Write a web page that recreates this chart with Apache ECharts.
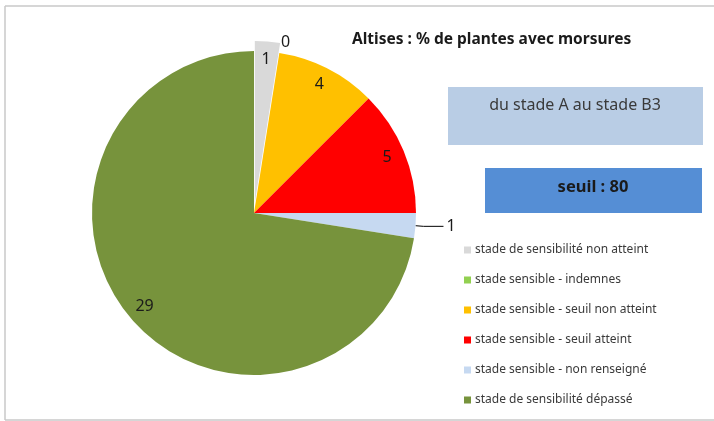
<!DOCTYPE html>
<html><head><meta charset="utf-8">
<script src="https://cdn.jsdelivr.net/npm/echarts@6/dist/echarts.min.js"></script>
<style>html,body{margin:0;padding:0;background:#fff}#c{width:714px;height:421px}</style>
</head><body><div id="c"></div>
<script>
const categories = [
  'stade de sensibilité non atteint',
  'stade sensible - indemnes',
  'stade sensible - seuil non atteint',
  'stade sensible - seuil atteint',
  'stade sensible - non renseigné',
  'stade de sensibilité dépassé'
];
const values = [1, 0, 4, 5, 1, 29];
const colors = ['#d9d9d9', '#92d050', '#ffc000', '#ff0000', '#c6d9f1', '#77933c'];
const titleText = 'Altises : % de plantes avec morsures';
const stageText = 'du stade A au stade B3';
const thresholdText = 'seuil : 80';

const FONT = '"Noto Sans", "Open Sans", sans-serif';
const C = [254, 213], R = 162;
const outsideIdx = [1, 4];

const mainData = categories.map((n, i) => {
  const d = { name: n, value: values[i], itemStyle: { color: colors[i] } };
  if (i === 0) d.selected = true;
  if (i === 1) {
    d.label = { show: true, position: 'outside', distanceToLabelLine: 0 };
    d.labelLine = { show: false, length: 11, length2: 0 };
  } else if (i === 4) {
    d.label = { show: true, position: 'outside', distanceToLabelLine: 3, verticalAlign: 'bottom', padding: [0, 0, 0, 0] };
    d.labelLine = { show: true, length: 8, length2: 20, lineStyle: { color: '#000', width: 1 } };
  } else {
    d.label = { show: false };
  }
  return d;
});
const overlayData = categories.map((n, i) => {
  const d = { name: n, value: values[i], itemStyle: { color: 'rgba(0,0,0,0)' } };
  if (i === 0) d.selected = true;
  d.label = { show: outsideIdx.indexOf(i) < 0 };
  return d;
});

const chart = echarts.init(document.getElementById('c'), null, { renderer: 'canvas' });
chart.setOption({
  backgroundColor: '#ffffff',
  animation: false,
  title: {
    text: titleText, left: 352, top: 32, padding: 0,
    textStyle: { fontFamily: FONT, fontSize: 15.5, fontWeight: 'bold', color: '#1a1a1a' }
  },
  legend: {
    orient: 'vertical', left: 464, top: 242, padding: 0,
    icon: 'rect', itemWidth: 7, itemHeight: 7, itemGap: 14,
    selectedMode: false,
    data: categories,
    textStyle: { fontFamily: FONT, fontSize: 12, color: '#3a3a3a', lineHeight: 16, padding: [0, 0, 0, -1] }
  },
  graphic: [
    { type: 'line', shape: { x1: 5, y1: 6, x2: 714, y2: 6 }, style: { stroke: '#c8c8c8', lineWidth: 1.5 } },
    { type: 'line', shape: { x1: 5, y1: 6, x2: 5, y2: 420 }, style: { stroke: '#c8c8c8', lineWidth: 1.5 } },
    { type: 'line', shape: { x1: 5, y1: 420, x2: 714, y2: 420 }, style: { stroke: '#c8c8c8', lineWidth: 1.5 } },
    { type: 'rect', shape: { x: 448, y: 87, width: 255, height: 58 }, style: { fill: '#b9cde5' } },
    { type: 'text', x: 575, y: 105, style: { text: stageText, fill: '#3a3a3a', font: '16px ' + FONT, textAlign: 'center', textVerticalAlign: 'middle' } },
    { type: 'rect', shape: { x: 485, y: 168, width: 217, height: 45 }, style: { fill: '#558ed5' } },
    { type: 'text', x: 593, y: 187, style: { text: thresholdText, fill: '#1a1a1a', font: 'bold 16.5px ' + FONT, textAlign: 'center', textVerticalAlign: 'middle' } }
  ],
  series: [
    {
      type: 'pie', name: 'main', center: C, radius: [0, R],
      startAngle: 90, clockwise: true, avoidLabelOverlap: false,
      selectedMode: 'single', selectedOffset: 10,
      silent: true,
      label: { fontFamily: FONT, fontSize: 16, color: '#1a1a1a', formatter: '{c}' },
      itemStyle: { borderWidth: 0 },
      emphasis: { disabled: true },
      data: mainData
    },
    {
      type: 'pie', name: 'labels', center: C, radius: [0, R * 0.87 * 2],
      startAngle: 90, clockwise: true, avoidLabelOverlap: false,
      selectedMode: 'single', selectedOffset: 10,
      silent: true, legendHoverLink: false,
      label: { position: 'inside', fontFamily: FONT, fontSize: 16, color: '#1a1a1a', formatter: '{c}' },
      labelLine: { show: false },
      itemStyle: { borderWidth: 0 },
      emphasis: { disabled: true },
      data: overlayData
    }
  ]
});
</script></body></html>
